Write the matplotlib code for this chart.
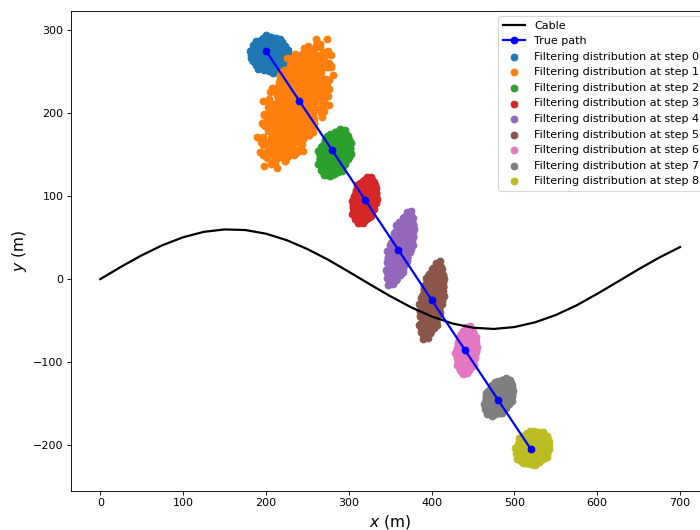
import numpy as np
import matplotlib
matplotlib.use('Agg')
import matplotlib.pyplot as plt

# --- Cable profile ---
cable_x = [0, 25, 50, 75, 100, 125, 150, 175, 200, 225, 250, 275, 300, 325, 350,
           375, 400, 425, 450, 475, 500, 525, 550, 575, 600, 625, 650, 675, 700]
cable_y = [0.0, 14.8, 28.7, 40.8, 50.4, 56.9, 59.8, 59.1, 54.7, 46.9, 36.2, 23.4, 8.9,
           -6.0, -20.5, -33.8, -44.9, -53.4, -58.5, -60.0, -57.7, -52.0, -43.2, -31.6,
           -17.7, -3.0, 11.9, 26.0, 38.6]

# --- True path ---
path_x = [200, 240, 280, 320, 360, 400, 440, 480, 520]
path_y = [275, 215, 155, 95, 35, -25, -85, -145, -205]

# --- Filtering distributions: centre, spread along major/minor axis, tilt (deg) ---
cloud_cx = [204, 236, 283, 319, 362, 400, 442, 481, 522]
cloud_cy = [271, 211, 152, 95, 37, -26, -86, -142, -203]
cloud_a = [23, 82, 29, 28, 45, 46, 28, 24, 22]
cloud_b = [21, 35, 18, 14, 13, 13, 12, 15, 19]
cloud_ang = [0, 67, 70, 78, 75, 80, 85, 60, 45]

# unit particle template (hand-placed offsets)
tmpl_x = [0.95, 0.85, 0.62, 0.35, 0.02, -0.33, -0.66, -0.88, -0.96, -0.84, -0.60, -0.28,
          0.06, 0.40, 0.70, 0.90, 1.05, -0.15, -1.02, 0.18,
          0.62, 0.48, 0.15, -0.22, -0.52, -0.64, -0.50, -0.15, 0.22, 0.55, 0.72, -0.38,
          0.30, -0.75,
          0.30, 0.18, -0.10, -0.32, -0.25, 0.02, 0.28, 0.00, 0.12, -0.12]
tmpl_y = [0.05, 0.38, 0.70, 0.90, 0.97, 0.88, 0.68, 0.36, -0.04, -0.42, -0.74, -0.93,
          -0.98, -0.86, -0.63, -0.30, -0.12, 1.08, 0.18, -1.06,
          0.10, 0.45, 0.63, 0.58, 0.35, -0.05, -0.40, -0.62, -0.58, -0.32, 0.25, 0.70,
          -0.75, -0.20,
          0.05, 0.28, 0.32, 0.08, -0.22, -0.33, -0.18, 0.00, 0.10, -0.08]

colors = ['#1f77b4', '#ff7f0e', '#2ca02c', '#d62728', '#9467bd',
          '#8c564b', '#e377c2', '#7f7f7f', '#bcbd22']

fig = plt.figure(figsize=(8.75, 6.625), dpi=80)
ax = fig.add_axes([0.1019, 0.0742, 0.911, 0.9057])

tx = np.array(tmpl_x)
ty = np.array(tmpl_y)
# the template is stacked at a few scales / turns so the blobs fill in
scales = [1.0, 0.97, 0.94, 0.91, 0.88, 0.84, 0.8, 0.76, 0.71, 0.66, 0.6, 0.54,
          0.47, 0.4, 0.32, 0.24, 0.15]

handles = []
for i in range(len(cloud_cx)):
    px, py = [], []
    t = np.deg2rad(cloud_ang[i])
    for k, s in enumerate(scales):
        rr = np.deg2rad(137.5 * k)
        ux = s * (tx * np.cos(rr) - ty * np.sin(rr)) * cloud_a[i]
        uy = s * (tx * np.sin(rr) + ty * np.cos(rr)) * cloud_b[i]
        px.append(cloud_cx[i] + ux * np.cos(t) - uy * np.sin(t))
        py.append(cloud_cy[i] + ux * np.sin(t) + uy * np.cos(t))
    sc = ax.scatter(np.concatenate(px), np.concatenate(py), s=36, color=colors[i],
                    zorder=1, label=f'Filtering distribution at step {i}')
    handles.append(sc)

cab, = ax.plot(cable_x, cable_y, color='black', lw=2, zorder=3, label='Cable')
tp, = ax.plot(path_x, path_y, color='blue', lw=2, marker='o', markersize=6,
              zorder=4, label='True path')

ax.set_xlim(-35, 735)
ax.set_ylim(-254.7, 323.2)
ax.set_xticks([0, 100, 200, 300, 400, 500, 600, 700])
ax.set_yticks([-200, -100, 0, 100, 200, 300])
ax.set_xlabel('$x$ (m)', fontsize=14)
ax.set_ylabel('$y$ (m)', fontsize=14)

allh = [cab, tp] + handles
ax.legend(allh, [h.get_label() for h in allh], loc='upper right')

fig.savefig('out.png', dpi=80)
